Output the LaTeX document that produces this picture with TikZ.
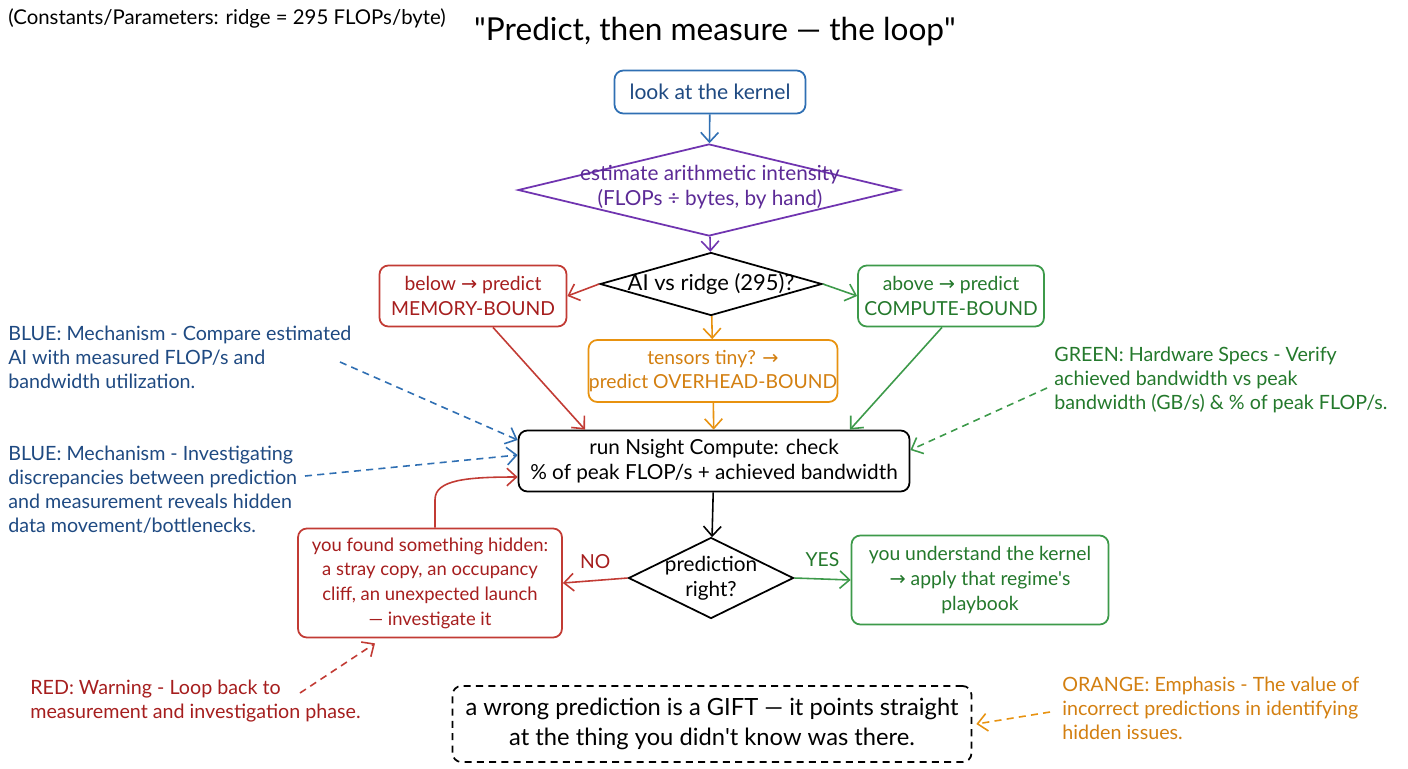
\documentclass[tikz,border=0pt]{standalone}
\usepackage{fontspec}
\setmainfont{Lato}
\newfontfamily\qfont{Lato}
\newfontfamily\symf{DejaVu Sans}
\usetikzlibrary{arrows.meta,shapes.geometric,calc}
\definecolor{cblue}{HTML}{2F6FB3}
\definecolor{cbluet}{HTML}{1F4A82}
\definecolor{cpurple}{HTML}{7034B0}
\definecolor{cpurplet}{HTML}{5C2A96}
\definecolor{cred}{HTML}{C23B34}
\definecolor{credt}{HTML}{A61E1E}
\definecolor{cgreen}{HTML}{3D9A4A}
\definecolor{cgreent}{HTML}{24792C}
\definecolor{corange}{HTML}{E8920F}
\definecolor{coranget}{HTML}{D37F10}
\newcommand\rarr{{\symf →}}
\newcommand\sq{{\qfont '}}
\newcommand\dq{{\qfont "}}
\begin{document}
\begin{tikzpicture}[x=0.02cm,y=-0.02cm,
  box/.style={draw, rounded corners=5pt, line width=1pt, align=center, inner sep=0pt, font=\fontsize{11}{14}\selectfont},
  dia/.style={draw, diamond, line width=1pt, inner sep=0pt},
  lbl/.style={align=center, inner sep=0pt, font=\fontsize{11.8}{14}\selectfont},
  note/.style={anchor=north west, align=left, inner sep=0pt, font=\fontsize{11.2}{13.6}\selectfont},
  arr/.style={line width=0.9pt, -{Straight Barb[length=5.5pt,width=10pt]}},
  dasharr/.style={arr, dash pattern=on 4pt off 3pt}]
\useasboundingbox (0,0) rectangle (1408,768);
\fill[white] (0,0) rectangle (1408,768);

% header
\node[anchor=west, inner sep=0pt, font=\fontsize{11.6}{13}\selectfont] (const) at (8,18) {(Constants/Parameters: ridge = 295 FLOPs/byte)};
\node[inner sep=0pt, font=\fontsize{18}{20}\selectfont] (title) at (715,32) {\dq Predict, then measure — the loop\dq};

% main flow
\node[box, cblue, text=cbluet, minimum width=3.82cm, minimum height=0.86cm, font=\fontsize{12}{14}\selectfont] (look) at (710,92) {look at the kernel};
\node[dia, cpurple, minimum width=7.64cm, minimum height=1.84cm] (est) at (709,190) {};
\node[lbl, text=cpurplet] (estT) at (710,187) {estimate arithmetic intensity\\(FLOPs ÷ bytes, by hand)};
\node[dia, black, minimum width=4.44cm, minimum height=1.26cm] (ai) at (711,284) {};
\node[lbl, font=\fontsize{12.5}{14}\selectfont] (aiT) at (711,284) {AI vs ridge (295)?};
\node[box, cred, text=credt, minimum width=3.74cm, minimum height=1.22cm] (below) at (473,296) {below \rarr{} predict\\MEMORY-BOUND};
\node[box, cgreen, text=cgreent, minimum width=3.72cm, minimum height=1.22cm] (above) at (951,296) {above \rarr{} predict\\COMPUTE-BOUND};
\node[box, corange, text=coranget, minimum width=4.98cm, minimum height=1.24cm] (tens) at (713,371) {tensors tiny? \rarr\\predict OVERHEAD-BOUND};
\node[box, black, minimum width=7.82cm, minimum height=1.22cm, font=\fontsize{11.8}{14.5}\selectfont] (run) at (714,461) {run Nsight Compute: check\\\% of peak FLOP/s + achieved bandwidth};
\node[dia, black, minimum width=3.3cm, minimum height=1.62cm] (pred) at (711,578) {};
\node[lbl] (predT) at (711,578) {prediction\\right?};
\node[box, cred, text=credt, minimum width=5.28cm, minimum height=2.18cm, font=\fontsize{10.5}{14}\selectfont] (found) at (430,583) {you found something hidden:\\a stray copy, an occupancy\\cliff, an unexpected launch\\— investigate it};
\node[box, cgreen, text=cgreent, minimum width=5.14cm, minimum height=1.78cm] (und) at (980,580) {you understand the kernel\\\rarr{} apply that regime\sq s\\playbook};
\node[box, black, dash pattern=on 4pt off 3pt, minimum width=10.38cm, minimum height=1.52cm, font=\fontsize{13.5}{17}\selectfont] (gift) at (712,724) {a wrong prediction is a GIFT — it points straight\\at the thing you didn\sq t know was there.};

% connectors
\draw[arr, cblue] (look) -- (est);
\draw[arr, cpurple] (est) -- (ai);
\draw[arr, cred] (ai.west) -- (below.east);
\draw[arr, cgreen] (ai.east) -- (above.west);
\draw[arr, corange] (ai) -- (tens);
\draw[arr, cred] ([xshift=0.4cm]below.south) -- ([xshift=-2.58cm]run.north);
\draw[arr, cgreen] ([xshift=-0.18cm]above.south) -- ([xshift=2.72cm]run.north);
\draw[arr, corange] (tens) -- (run);
\draw[arr, black] (run) -- (pred);
\draw[arr, cred] (pred.west) -- node[above=3pt, text=credt, font=\fontsize{11}{12}\selectfont] {NO} (found.east);
\draw[arr, cgreen] (pred.east) -- node[above=3pt, text=cgreent, font=\fontsize{11}{12}\selectfont] {YES} (und.west);
\draw[arr, cred] ([xshift=0.1cm]found.north) -- ++(0,-28) .. controls +(0,-20) and +(-50,0) .. ([yshift=-0.32cm]run.west);

% annotations
\node[note, text=cbluet] (n1) at (8,326) {BLUE: Mechanism - Compare estimated\\AI with measured FLOP/s and\\bandwidth utilization.};
\node[note, text=cbluet] (n2) at (8,446) {BLUE: Mechanism - Investigating\\discrepancies between prediction\\and measurement reveals hidden\\data movement/bottlenecks.};
\node[note, text=cgreent] (n3) at (1054,347) {GREEN: Hardware Specs - Verify\\achieved bandwidth vs peak\\bandwidth (GB/s) \& \% of peak FLOP/s.};
\node[note, text=credt] (n4) at (30,680) {RED: Warning - Loop back to\\measurement and investigation phase.};
\node[note, text=coranget] (n5) at (1062,677) {ORANGE: Emphasis - The value of\\incorrect predictions in identifying\\hidden issues.};

\coordinate (n1s) at (340,362);
\coordinate (n2s) at (305,476);
\coordinate (n3s) at (1047,388);
\coordinate (n4s) at (300,693);
\coordinate (n5s) at (1050,712);
\draw[dasharr, cblue] (n1s) -- ([yshift=0.42cm]run.west);
\draw[dasharr, cblue] (n2s) -- ([yshift=0.12cm]run.west);
\draw[dasharr, cgreen] (n3s) -- ([yshift=0.22cm]run.east);
\draw[dasharr, cred] (n4s) -- ([xshift=-1.1cm,yshift=-0.1cm]found.south);
\draw[dasharr, corange] (n5s) -- ([xshift=0.08cm]gift.east);
\end{tikzpicture}
\end{document}
